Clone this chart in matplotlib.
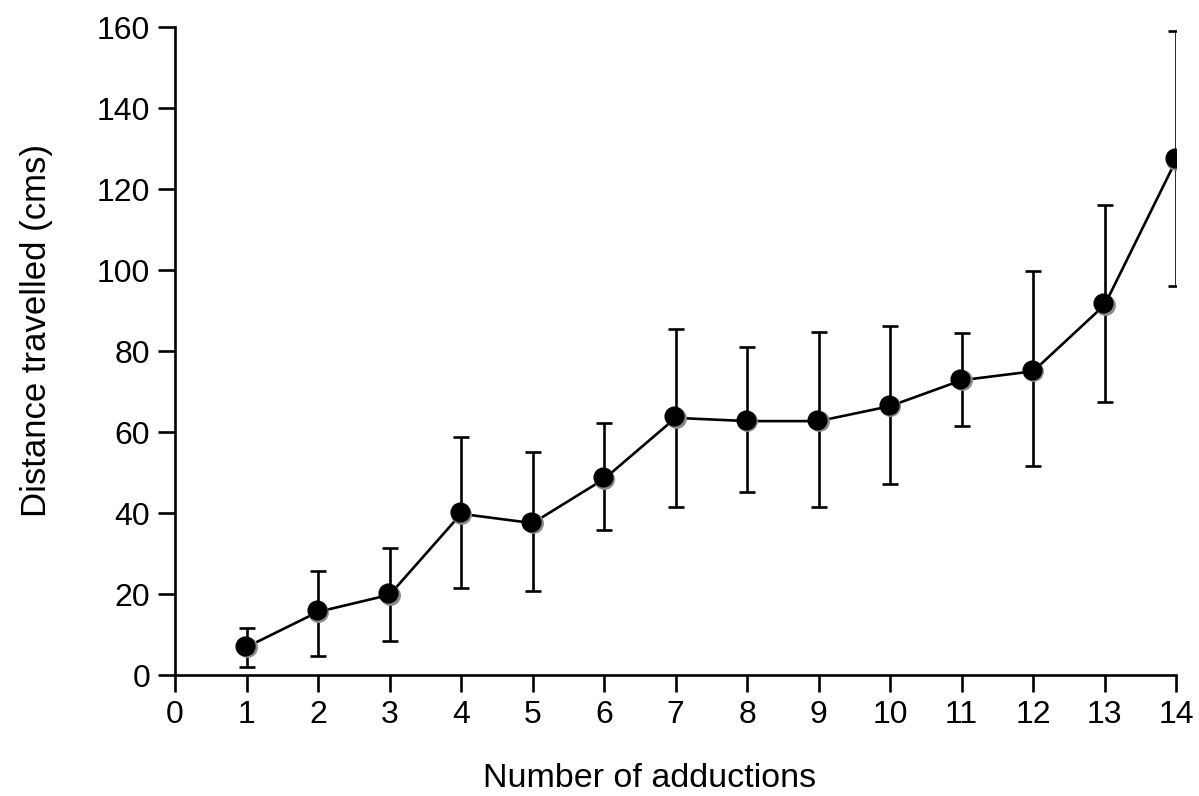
import matplotlib
matplotlib.use("Agg")
import matplotlib.pyplot as plt
from matplotlib.transforms import offset_copy

plt.rcParams['font.family'] = ['Liberation Sans', 'DejaVu Sans']

# values
adductions = [1, 2, 3, 4, 5, 6, 7, 8, 9, 10, 11, 12, 13, 14]
distance = [6.9, 15.6, 19.8, 39.8, 37.5, 48.4, 63.5, 62.7, 62.7, 66.4, 72.8, 75.0, 91.4, 127.2]
err_top = [11.6, 25.7, 31.4, 58.8, 55.0, 62.2, 85.4, 81.0, 84.7, 86.2, 84.4, 99.8, 116.0, 159.0]
err_bottom = [2.0, 4.7, 8.4, 21.5, 20.7, 35.8, 41.5, 45.2, 41.5, 47.2, 61.5, 51.6, 67.4, 96.0]

lower = [d - b for d, b in zip(distance, err_bottom)]
upper = [t - d for d, t in zip(distance, err_top)]

fig = plt.figure(figsize=(11.99, 7.96), dpi=100)
ax = fig.add_axes([0.146, 0.152, 0.835, 0.814])

ax.errorbar(adductions, distance, yerr=[lower, upper], color='black', lw=1.9,
            capsize=5.5, capthick=1.9, elinewidth=1.9, fmt='-', zorder=2)
# grey shadow then black disc shifted up-left -> grey crescent lower right
ax.plot(adductions, distance, linestyle='none', marker='o', markersize=14,
        markerfacecolor='#8a8a8a', markeredgecolor='#8a8a8a', zorder=3)
shift = offset_copy(ax.transData, fig=fig, x=-1.1, y=1.1, units='points')
ax.plot(adductions, distance, linestyle='none', marker='o', markersize=13.5,
        markerfacecolor='black', markeredgecolor='black', transform=shift, zorder=4)

ax.set_xlim(0, 14)
ax.set_ylim(0, 160)
ax.set_xticks(range(0, 15))
ax.set_yticks(range(0, 161, 20))

ax.spines['right'].set_visible(False)
ax.spines['top'].set_visible(False)
for s in ['left', 'bottom']:
    ax.spines[s].set_linewidth(1.9)
ax.tick_params(direction='out', length=12, width=1.9, labelsize=23, pad=6)

ax.set_xlabel('Number of adductions', fontsize=24.5)
ax.set_ylabel('Distance travelled (cms)', fontsize=25)
ax.xaxis.set_label_coords(0.4735, -0.136)
ax.yaxis.set_label_coords(-0.122, 0.532)

fig.savefig('out.png', dpi=100)
